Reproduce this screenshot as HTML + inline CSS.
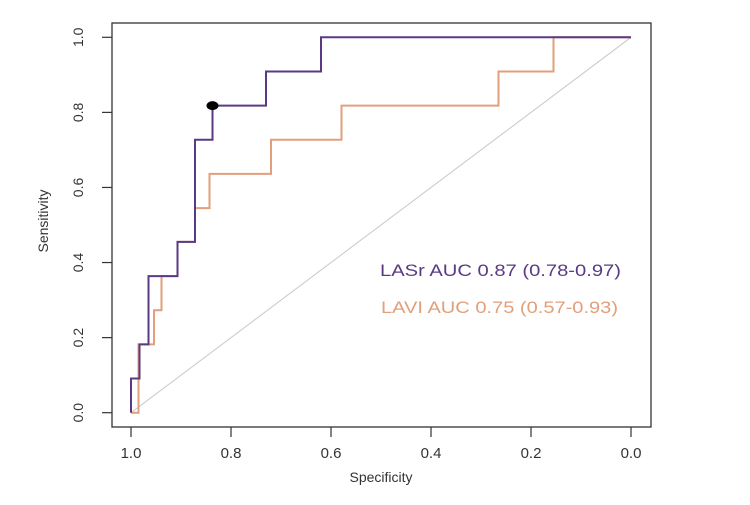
<!DOCTYPE html>
<html><head><meta charset="utf-8"><style>
html,body{margin:0;padding:0;background:#fff}
svg text{font-family:"Liberation Sans",Arial,sans-serif}
</style></head><body>
<svg id="chart" width="750" height="500" viewBox="0 0 750 500">
<rect x="0" y="0" width="750" height="500" fill="#fff"/>
<g id="grid"></g>
<g id="lines"></g>
<rect x="112" y="23" width="539" height="404" fill="none" stroke="#333" stroke-width="1.3"/>
<g id="axes"></g>
<text x="48" y="221" font-size="14" fill="#333" text-anchor="middle" transform="rotate(-90 48 221)">Sensitivity</text>
<text x="381" y="482" font-size="14" fill="#333" text-anchor="middle">Specificity</text>
<text x="380" y="276" font-size="17" fill="#5a3a85" textLength="241" lengthAdjust="spacingAndGlyphs">LASr AUC 0.87 (0.78-0.97)</text>
<text x="381" y="313" font-size="17" fill="#e29f7b" textLength="237" lengthAdjust="spacingAndGlyphs">LAVI AUC 0.75 (0.57-0.93)</text>
</svg>
<script>
const xTicks = [1.0, 0.8, 0.6, 0.4, 0.2, 0.0];
const yTicks = [0.0, 0.2, 0.4, 0.6, 0.8, 1.0];
const lasrSpec = [1.0, 1.0, 0.983, 0.983, 0.965, 0.965, 0.907, 0.907, 0.872, 0.872, 0.837, 0.837, 0.73, 0.73, 0.62, 0.62, 0.0];
const lasrSens = [0.0, 0.091, 0.091, 0.182, 0.182, 0.364, 0.364, 0.455, 0.455, 0.727, 0.727, 0.818, 0.818, 0.909, 0.909, 1.0, 1.0];
const laviSpec = [1.0, 0.985, 0.985, 0.954, 0.954, 0.939, 0.939, 0.907, 0.907, 0.872, 0.872, 0.843, 0.843, 0.72, 0.72, 0.579, 0.579, 0.265, 0.265, 0.155, 0.155, 0.0];
const laviSens = [0.0, 0.0, 0.182, 0.182, 0.273, 0.273, 0.364, 0.364, 0.455, 0.455, 0.545, 0.545, 0.636, 0.636, 0.727, 0.727, 0.818, 0.818, 0.909, 0.909, 1.0, 1.0];
const bestPoint = [0.837, 0.818];

const NS = 'http://www.w3.org/2000/svg';
const xs = v => 631 - v * 500;
const ys = v => 412.7 - v * 375.4;
const axes = document.getElementById('axes');
const lines = document.getElementById('lines');
function mk(tag, attrs, parent){const e=document.createElementNS(NS,tag);for(const k in attrs)e.setAttribute(k,attrs[k]);parent.appendChild(e);return e;}

xTicks.forEach(t=>{
  const l=mk('line',{x1:xs(t),x2:xs(t),y1:427,y2:437,stroke:'#333','stroke-width':1.2},axes);
  
  
  const tx=mk('text',{x:xs(t),y:458,'font-size':15,fill:'#333','text-anchor':'middle'},axes);
  tx.textContent=t.toFixed(1);
  
  
});
yTicks.forEach(t=>{
  const l=mk('line',{x1:102,x2:112,y1:ys(t),y2:ys(t),stroke:'#333','stroke-width':1.2},axes);
  
  
  const tx=mk('text',{x:83,y:ys(t),'font-size':14,fill:'#333','text-anchor':'middle',transform:`rotate(-90 83 ${ys(t)})`},axes);
  tx.textContent=t.toFixed(1);
  
  
});
const diag=mk('line',{x1:xs(1),y1:ys(0),x2:xs(0),y2:ys(1),stroke:'#c8c8c8','stroke-width':1},lines);


function path(sp,se,color,name){
  const d=sp.map((s,i)=>(i?'L':'M')+xs(s).toFixed(1)+' '+ys(se[i]).toFixed(1)).join(' ');
  const p=mk('path',{d,fill:'none',stroke:color,'stroke-width':2},lines);
  
  
}
path(laviSpec,laviSens,'#e29f7b','lavi-roc-curve');
path(lasrSpec,lasrSens,'#5a3a85','lasr-roc-curve');
const pt=mk('ellipse',{cx:xs(bestPoint[0]),cy:ys(bestPoint[1]),rx:6,ry:4.5,fill:'#000'},lines);


</script>
</body></html>
